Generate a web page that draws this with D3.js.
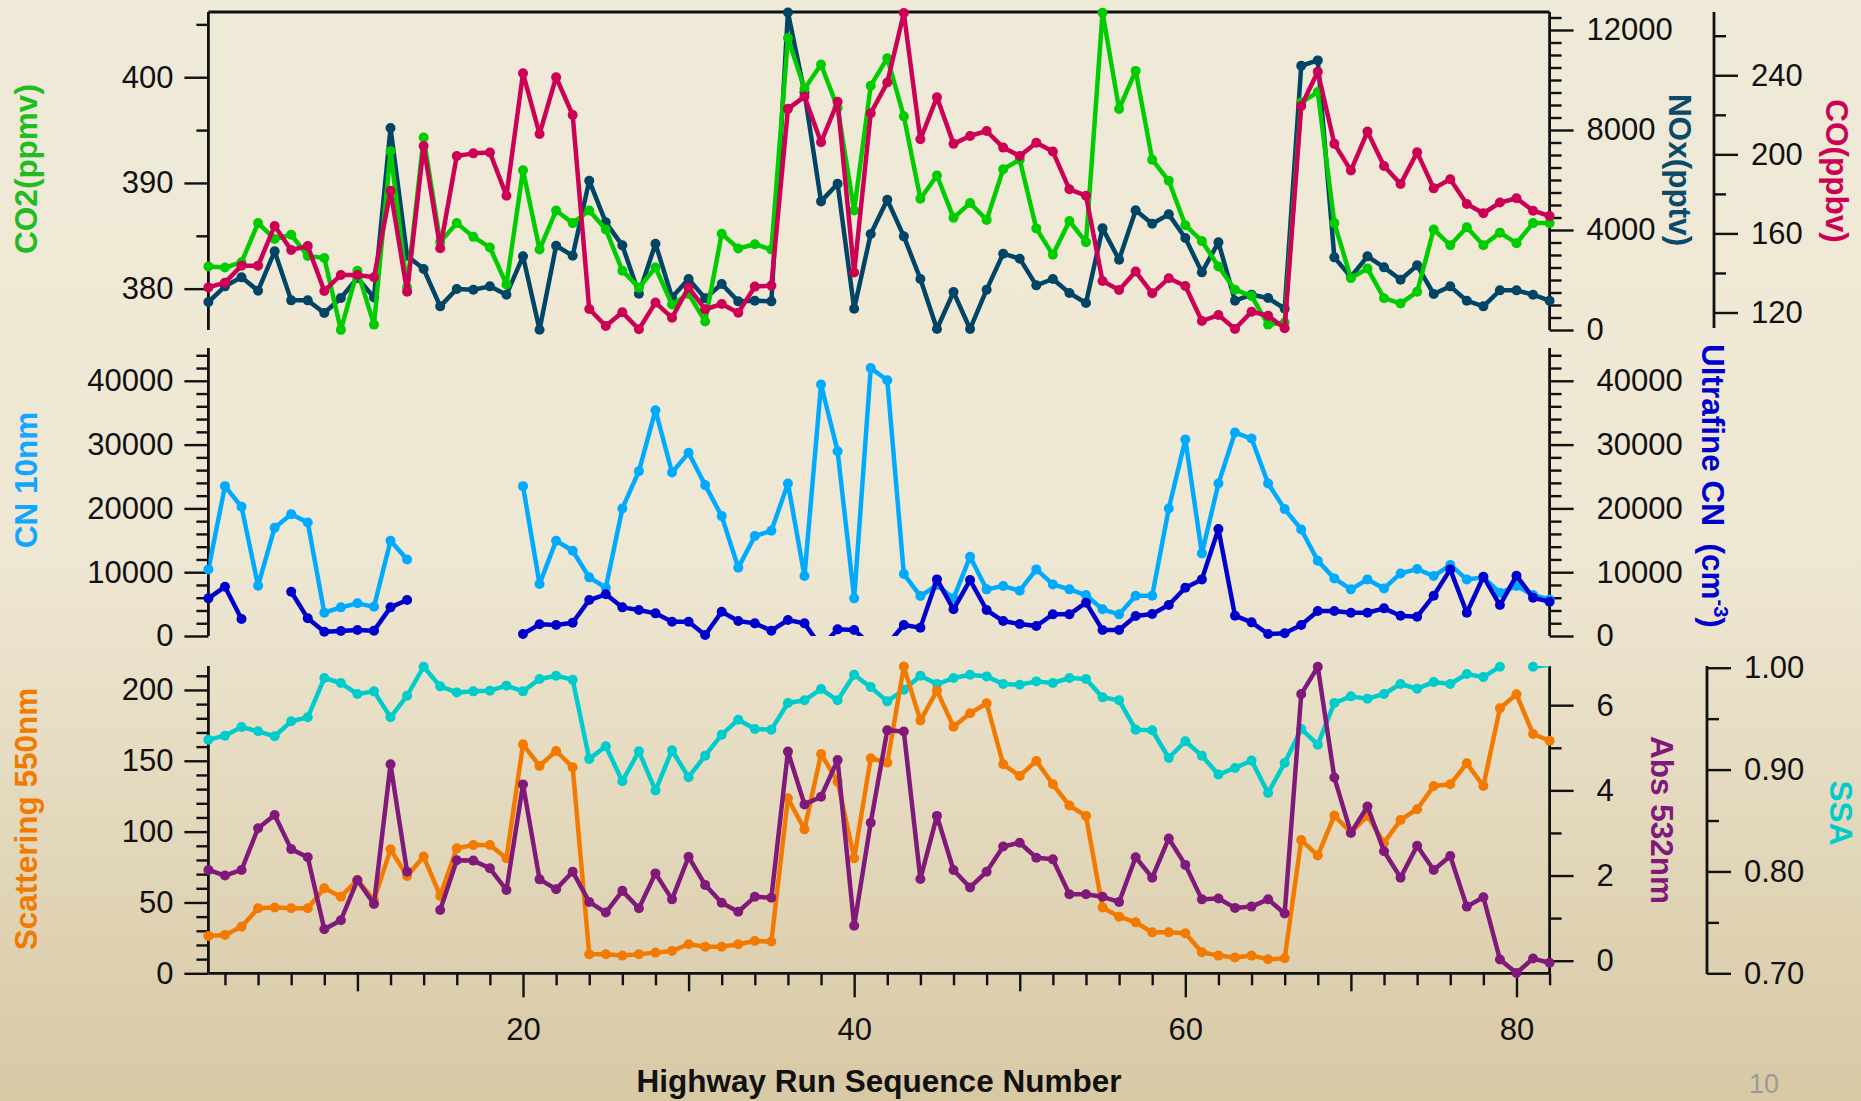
<!DOCTYPE html>
<html>
<head>
<meta charset="utf-8">
<script src="https://cdn.jsdelivr.net/npm/d3@7"></script>
<style>
  html, body { margin: 0; padding: 0; }
  svg { display: block; }
</style>
</head>
<body>
<svg id="chart" width="1861" height="1101"></svg>
<script>
// ---- Highway run measurements (one value per run, null = no data) ----
const co2 = [382.1, 382.0, 382.5, 386.2, 384.7, 385.1, 383.1, 382.9, 376.1, 381.7, 376.6, 393.0, 380.1, 394.3, 384.4, 386.2, 384.9, 383.9, 380.4, 391.2,
  383.7, 387.4, 386.2, 387.4, 385.6, 381.7, 380.1, 382.0, 378.5, 379.5, 376.9, 385.2, 383.8, 384.2, 383.7, 403.7, 398.9, 401.2, 397.1, 387.4,
  399.2, 401.8, 396.3, 388.5, 390.7, 386.7, 388.1, 386.5, 391.3, 392.2, 385.7, 383.2, 386.4, 384.4, 406.1, 397.0, 400.6, 392.2, 390.2, 386.0,
  384.5, 382.1, 379.9, 379.3, 376.6, 376.8, 397.6, 398.6, 386.2, 381.0, 381.9, 379.1, 378.6, 379.7, 385.6, 384.1, 385.8, 384.1, 385.3, 384.3,
  386.2, 386.2];

const nox = [1120, 1746, 2106, 1573, 3146, 1186, 1186, 680, 1280, 2080, 1300, 8078, 2973, 2440, 946, 1640, 1613, 1746, 1413, 2946,
  13, 3372, 2973, 5972, 4306, 3386, 1453, 3452, 1306, 2040, 1266, 1840, 1146, 1173, 1146, 12700, 9500, 5145, 5852, 853,
  3839, 5212, 3746, 2040, 40, 1520, 40, 1613, 3053, 2853, 1786, 2040, 1480, 1080, 4066, 2813, 4786, 4252, 4626, 3679,
  2306, 3506, 1173, 1413, 1280, 853, 10570, 10784, 2906, 2120, 2946, 2506, 2013, 2586, 1440, 1746, 1173, 946, 1586, 1586,
  1413, 1173];

const co = [132.7, 135.1, 143.7, 143.7, 163.8, 151.6, 153.6, 130.9, 139.0, 139.0, 137.8, 181.6, 130.5, 204.2, 152.5, 199.2, 200.5, 200.9, 179.1, 241.0,
  210.3, 239.0, 219.9, 121.8, 113.2, 120.1, 111.5, 125.0, 117.4, 132.7, 121.6, 124.3, 119.9, 133.1, 133.6, 223.0, 229.2, 206.1, 226.6, 140.2,
  220.8, 236.3, 271.5, 207.6, 228.9, 205.3, 209.3, 211.8, 203.4, 199.2, 205.9, 201.4, 182.3, 179.1, 135.9, 131.4, 140.7, 129.7, 137.3, 133.4,
  115.7, 118.7, 111.7, 120.4, 118.4, 112.0, 224.5, 241.8, 205.3, 191.8, 211.5, 194.1, 185.0, 201.0, 182.8, 187.4, 174.9, 170.2, 175.6, 177.8,
  171.5, 168.8];

const cn10 = [10440, 23490, 20250, 7880, 16970, 19100, 17800, 3650, 4490, 5120, 4590, 14930, 12000, null, null, null, null, null, null, 23490,
  8140, 14930, 13360, 9190, 7570, 19990, 25840, 35390, 25630, 28710, 23650, 18790, 10700, 15660, 16500, 23900, 9400, 39410, 28970, 5900,
  42000, 40090, 9710, 6260, 7990, 5900, 12420, 7310, 7830, 7100, 10440, 8090, 7310, 6420, 4180, 3390, 6320, 6320, 19990, 30800,
  12950, 23900, 31890, 30950, 23900, 19890, 16700, 11800, 9030, 7310, 8870, 7460, 9810, 10490, 9400, 11120, 8870, 9190, 6790, 7830,
  6420, 5740];

const ultrafine = [5900, 7730, 2660, null, null, 6940, 2770, 680, 780, 940, 840, 4490, 5640, null, null, null, null, null, null, 310,
  1830, 1720, 2090, 5640, 6530, 4490, 4070, 3550, 2240, 2240, 160, 3810, 2350, 1980, 840, 2510, 1980, -1700, 1040, 940,
  -1400, -1300, 1720, 1310, 8870, 4180, 8770, 4070, 2350, 1880, 1570, 3390, 3390, 5220, 940, 940, 3130, 3450, 4850, 7570,
  8870, 16760, 3180, 2140, 310, 420, 1720, 3920, 3920, 3650, 3650, 4330, 3180, 3030, 6320, 10440, 3650, 9290, 4850, 9450,
  6000, 5380];

const scattering = [26.4, 27.1, 32.9, 45.9, 46.4, 45.9, 45.9, 60.0, 54.1, 65.9, 51.8, 87.5, 68.7, 82.4, 54.6, 88.2, 90.6, 90.6, 81.2, 161.6,
  146.4, 156.9, 145.4, 13.4, 13.4, 12.5, 13.4, 14.6, 15.8, 20.5, 18.8, 18.8, 20.5, 22.8, 22.4, 123.5, 101.6, 154.8, 135.3, 81.2,
  151.8, 148.7, 216.5, 178.4, 199.5, 174.1, 183.5, 190.6, 147.5, 139.3, 149.9, 133.4, 118.4, 111.1, 46.4, 40.0, 36.0, 28.9, 28.9, 28.2,
  14.8, 12.5, 11.1, 12.5, 9.9, 10.6, 94.1, 83.1, 111.3, 99.5, 111.1, 92.2, 108.2, 115.8, 132.2, 133.4, 148.2, 132.2, 187.1, 196.9,
  168.9, 164.2];

const abs532 = [2.13, 2.00, 2.13, 3.11, 3.42, 2.62, 2.43, 0.74, 0.95, 1.89, 1.33, 4.61, 2.09, null, 1.19, 2.36, 2.35, 2.17, 1.66, 4.14,
  1.91, 1.68, 2.09, 1.38, 1.13, 1.64, 1.23, 2.05, 1.44, 2.44, 1.78, 1.36, 1.15, 1.50, 1.48, 4.91, 3.67, 3.85, 4.71, 0.82,
  3.24, 5.41, 5.38, 1.92, 3.40, 2.13, 1.72, 2.09, 2.68, 2.77, 2.42, 2.38, 1.56, 1.56, 1.50, 1.38, 2.43, 1.95, 2.87, 2.25,
  1.44, 1.46, 1.24, 1.27, 1.44, 1.11, 6.26, 6.90, 4.30, 3.00, 3.62, 2.57, 1.95, 2.70, 2.13, 2.46, 1.27, 1.49, 0.03, -0.29,
  0.05, -0.05];

const ssa = [0.9294, 0.9333, 0.9418, 0.9376, 0.9327, 0.9474, 0.9513, 0.9899, 0.9850, 0.9742, 0.9768, 0.9513, 0.9725, 1.0010, 0.9817, 0.9758, 0.9768, 0.9775, 0.9824, 0.9768,
  0.9889, 0.9922, 0.9882, 0.9105, 0.9229, 0.8886, 0.9180, 0.8794, 0.9190, 0.8925, 0.9137, 0.9343, 0.9490, 0.9399, 0.9392, 0.9654, 0.9680, 0.9791, 0.9680, 0.9931,
  0.9810, 0.9670, 0.9784, 0.9922, 0.9840, 0.9899, 0.9931, 0.9915, 0.9840, 0.9833, 0.9866, 0.9850, 0.9899, 0.9889, 0.9709, 0.9680, 0.9392, 0.9386, 0.9114, 0.9278,
  0.9137, 0.8951, 0.9016, 0.9088, 0.8771, 0.9065, 0.9399, 0.9245, 0.9654, 0.9719, 0.9696, 0.9742, 0.9840, 0.9794, 0.9859, 0.9840, 0.9938, 0.9908, 1.0010, 1.0300,
  1.0010, 1.0030];

// ---- tick labels ----
const xTicks = [20, 40, 60, 80];
const co2Ticks = [380, 390, 400];
const noxTicks = [0, 4000, 8000, 12000];
const coTicks = [120, 160, 200, 240];
const cnTicks = [0, 10000, 20000, 30000, 40000];
const scatTicks = [0, 50, 100, 150, 200];
const absTicks = [0, 2, 4, 6];
const ssaTicks = [0.70, 0.80, 0.90, 1.00];

// ---- layout ----
const W = 1861, H = 1101;
const X0 = 208.4, X1 = 1549.6;
const panels = {
  top: { y0: 12, y1: 330 },
  mid: { y0: 348, y1: 636 },
  bot: { y0: 666, y1: 973.3 }
};
const TICK_FONT = "'Liberation Sans', Arial, Helvetica, sans-serif";
const TITLE_FONT = "'Liberation Sans', Arial, Helvetica, sans-serif";

const svg = d3.select('#chart');
const defs = svg.append('defs');

// warm paper background, darkening toward the bottom
const grad = defs.append('linearGradient').attr('id', 'bg')
  .attr('x1', 0).attr('y1', 0).attr('x2', 0).attr('y2', 1);
grad.append('stop').attr('offset', '0%').attr('stop-color', '#efead8');
grad.append('stop').attr('offset', '50%').attr('stop-color', '#eee7d3');
grad.append('stop').attr('offset', '100%').attr('stop-color', '#d8c9a5');
svg.append('rect').attr('width', W).attr('height', H).attr('fill', 'url(#bg)');

Object.entries(panels).forEach(([k, p]) => {
  defs.append('clipPath').attr('id', 'clip-' + k)
    .append('rect').attr('x', X0).attr('y', p.y0).attr('width', X1 - X0).attr('height', p.y1 - p.y0);
});

// ---- scales ----
const x = d3.scaleLinear().domain([1, 82]).range([X0, X1]);
const yCO2 = d3.scaleLinear().domain([376.09, 406.17]).range([panels.top.y1, panels.top.y0]);
const yNOx = d3.scaleLinear().domain([0, 12720]).range([panels.top.y1, panels.top.y0]);
const yCO = d3.scaleLinear().domain([111.15, 272.0]).range([panels.top.y1, panels.top.y0]);
const yCN = d3.scaleLinear().domain([0, 45140]).range([panels.mid.y1, panels.mid.y0]);
const yUF = d3.scaleLinear().domain([0, 45140]).range([panels.mid.y1, panels.mid.y0]);
const yScat = d3.scaleLinear().domain([0, 216.9]).range([panels.bot.y1, panels.bot.y0]);
const yAbs = d3.scaleLinear().domain([-0.296, 6.92]).range([panels.bot.y1, panels.bot.y0]);
const ySSA = d3.scaleLinear().domain([0.70, 1.0017]).range([panels.bot.y1, panels.bot.y0]);

// ---- axes ----
function styleAxis(g) {
  g.selectAll('.domain').remove();
  g.selectAll('.tick line').attr('stroke', '#111').attr('stroke-width', 2.4);
  g.selectAll('.tick text').attr('fill', '#111')
    .style('font-family', TICK_FONT).style('font-size', '31px');
}

function yAxis(scale, side, xPos, majors, minors, fmt, pad, y0, y1) {
  const gen = side === 'left' ? d3.axisLeft : d3.axisRight;
  const g = svg.append('g').attr('transform', `translate(${xPos},0)`);
  g.append('g').call(gen(scale).tickValues(minors).tickSize(12).tickFormat(''));
  g.append('g').call(gen(scale).tickValues(majors).tickSize(24).tickPadding(pad).tickFormat(fmt));
  styleAxis(g);
  g.append('line').attr('x1', 0).attr('x2', 0).attr('y1', y0).attr('y2', y1)
    .attr('stroke', '#111').attr('stroke-width', 2.8);
}

const minorsOf = (start, stop, step, majors) =>
  d3.range(start, stop + step / 2, step).map(v => +v.toFixed(4)).filter(v => !majors.some(m => Math.abs(m - v) < 1e-9));

const plain = d3.format('d');

// left axes
yAxis(yCO2, 'left', X0, co2Ticks, [385, 395, 405], plain, 11, panels.top.y0, panels.top.y1);
yAxis(yCN, 'left', X0, cnTicks, minorsOf(0, 44000, 2000, cnTicks), plain, 11, panels.mid.y0, panels.mid.y1);
yAxis(yScat, 'left', X0, scatTicks, minorsOf(0, 210, 10, scatTicks), plain, 11, panels.bot.y0, panels.bot.y1);

// right axes
yAxis(yNOx, 'right', X1, noxTicks, minorsOf(0, 12500, 500, noxTicks), plain, 13, panels.top.y0, panels.top.y1);
yAxis(yUF, 'right', X1, cnTicks, minorsOf(0, 44000, 2000, cnTicks), plain, 23, panels.mid.y0, panels.mid.y1);
yAxis(yAbs, 'right', X1, absTicks, [1, 3, 5], plain, 23, panels.bot.y0, panels.bot.y1);
yAxis(yCO, 'right', 1714, coTicks, [140, 180, 220, 260], plain, 13, panels.top.y0, 328);
yAxis(ySSA, 'right', 1707, ssaTicks, [0.75, 0.85, 0.95], d3.format('.2f'), 13, panels.bot.y0, 974);

// top frame of the upper panel
svg.append('line').attr('x1', X0).attr('x2', X1).attr('y1', panels.top.y0).attr('y2', panels.top.y0)
  .attr('stroke', '#111').attr('stroke-width', 2.8);

// x axis along the bottom panel
{
  const g = svg.append('g').attr('transform', `translate(0,${panels.bot.y1})`);
  const minor = d3.range(2, 83, 2).filter(v => v % 10 !== 0);
  const mid = [10, 30, 50, 70];
  g.append('g').call(d3.axisBottom(x).tickValues(minor).tickSize(12).tickFormat(''));
  g.append('g').call(d3.axisBottom(x).tickValues(mid).tickSize(18).tickFormat(''));
  g.append('g').call(d3.axisBottom(x).tickValues(xTicks).tickSize(24).tickPadding(21).tickFormat(plain));
  styleAxis(g);
  g.append('line').attr('x1', X0).attr('x2', X1).attr('y1', 0).attr('y2', 0)
    .attr('stroke', '#111').attr('stroke-width', 2.8);
}

// ---- series ----
function drawSeries(values, y, color, panel) {
  const g = svg.append('g');
  const line = d3.line()
    .defined(d => d != null)
    .x((d, i) => x(i + 1))
    .y(d => y(d));
  g.append('path').datum(values)
    .attr('d', line)
    .attr('fill', 'none')
    .attr('stroke', color)
    .attr('stroke-width', 4.5)
    .attr('stroke-linejoin', 'round')
    .attr('clip-path', `url(#clip-${panel})`);
  const [lo, hi] = y.domain();
  const pts = values.map((v, i) => ({ v, i })).filter(d => d.v != null && d.v >= lo && d.v <= hi);
  g.selectAll('circle').data(pts).join('circle')
    .attr('cx', d => x(d.i + 1))
    .attr('cy', d => y(d.v))
    .attr('r', 5)
    .attr('fill', color);
}

const C = {
  co2: '#00cc00', nox: '#004466', co: '#cc0055',
  cn10: '#00aaff', uf: '#0000cc',
  scat: '#f27a00', abs: '#801a7a', ssa: '#00cccc'
};

drawSeries(nox, yNOx, C.nox, 'top');
drawSeries(co2, yCO2, C.co2, 'top');
drawSeries(co, yCO, C.co, 'top');

drawSeries(cn10, yCN, C.cn10, 'mid');
drawSeries(ultrafine, yUF, C.uf, 'mid');

drawSeries(ssa, ySSA, C.ssa, 'bot');
drawSeries(scattering, yScat, C.scat, 'bot');
drawSeries(abs532, yAbs, C.abs, 'bot');

// ---- axis titles ----
function vTitle(text, cx, cy, angle, color) {
  return svg.append('text')
    .attr('transform', `translate(${cx},${cy}) rotate(${angle})`)
    .attr('text-anchor', 'middle')
    .attr('dy', '0.35em')
    .attr('fill', color)
    .style('font-family', TITLE_FONT)
    .style('font-weight', 'bold')
    .style('font-size', '31.5px')
    .text(text);
}

vTitle('CO2(ppmv)', 26, 169, -90, '#22bb22');
vTitle('CN 10nm', 26, 480, -90, '#11a6ff');
vTitle('Scattering 550nm', 26, 819, -90, '#f27a00');
vTitle('NOx(pptv)', 1680, 170, 90, '#0a4a6a');
vTitle('CO(ppbv)', 1837, 171, 90, '#cc0055');
vTitle('Abs 532nm', 1662, 820, 90, '#801a7a');
vTitle('SSA', 1841, 813, 90, '#00cccc');

// ultrafine title with superscript unit exponent
{
  const t = svg.append('text')
    .attr('transform', `translate(1713,344) rotate(90)`)
    .attr('text-anchor', 'start')
    .attr('dy', '0.35em')
    .attr('fill', '#0000cc')
    .style('font-family', TITLE_FONT)
    .style('font-weight', 'bold')
    .style('font-size', '31.5px');
  t.append('tspan').text('Ultrafine CN\u00a0\u00a0(cm');
  t.append('tspan').attr('dy', '-12').style('font-size', '20px').text('-3');
  t.append('tspan').attr('dy', '12').text(')');
}

svg.append('text')
  .attr('x', 879).attr('y', 1092)
  .attr('text-anchor', 'middle')
  .attr('fill', '#111')
  .style('font-family', TITLE_FONT)
  .style('font-weight', 'bold')
  .style('font-size', '31.5px')
  .text('Highway Run Sequence Number');

// slide number
svg.append('text')
  .attr('x', 1764).attr('y', 1093)
  .attr('text-anchor', 'middle')
  .attr('fill', '#9a9a9a')
  .style('font-family', TITLE_FONT)
  .style('font-size', '27px')
  .text('10');
</script>
</body>
</html>
